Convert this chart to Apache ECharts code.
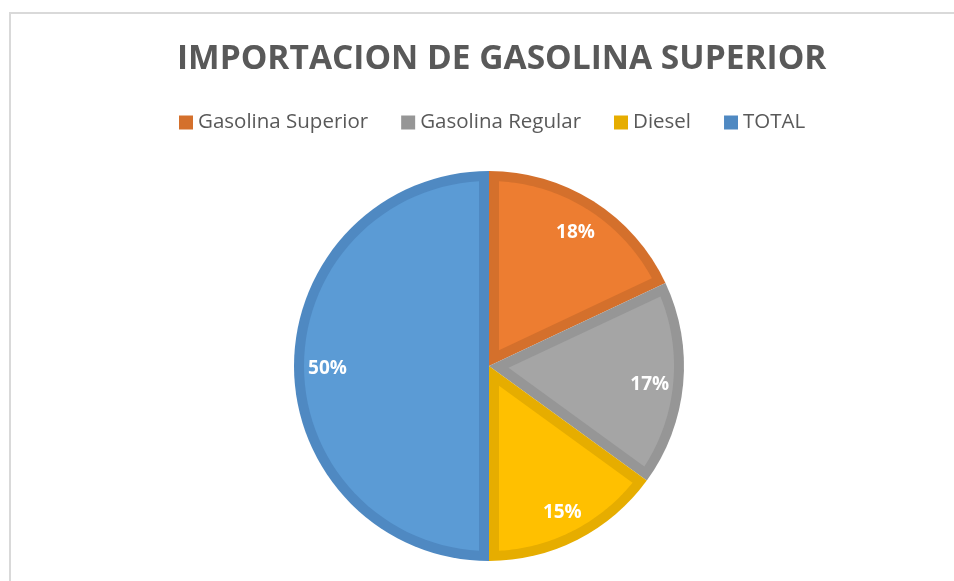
<!DOCTYPE html>
<html>
<head>
<meta charset="utf-8">
<script src="https://cdn.jsdelivr.net/npm/echarts@6/dist/echarts.min.js"></script>
<style>
  html, body { margin: 0; padding: 0; background: #fff; }
  #chart { width: 954px; height: 581px; }
</style>
</head>
<body>
<div id="chart"></div>
<script>
// datos del grafico
const categories = ['Gasolina Superior', 'Gasolina Regular', 'Diesel', 'TOTAL']
const values = [18, 17, 15, 50]
const fillColors = ['#ED7D31', '#A5A5A5', '#FFC000', '#5B9BD5']
const edgeColors = ['#D4702C', '#969696', '#E6AD00', '#4F89C2']

const chart = echarts.init(document.getElementById('chart'))
const center = [489, 366]
const R = 195
const edge = 10 // ancho del borde interior

const total = values.reduce((a, b) => a + b, 0)
// rangos acumulados para la serie custom
const ranges = []
let acc = 0
values.forEach((v, i) => {
  ranges.push([acc, acc + v, i])
  acc += v
})

// relleno claro, recortado hacia dentro
const renderInner = (params, api) => {
  const a0 = api.value(0)
  const a1 = api.value(1)
  const idx = api.value(2)
  const theta = (a1 - a0) / total * Math.PI * 2
  const shift = Math.asin(edge / (R - edge)) / (Math.PI * 2) * total
  const points = []
  const steps = 60
  for (let s = 0; s <= steps; s++) {
    const v = a0 + shift + (a1 - a0 - 2 * shift) * s / steps
    points.push(api.coord([R - edge, v]))
  }
  const apexR = edge / Math.sin(Math.min(theta, Math.PI) / 2)
  points.push(api.coord([apexR, (a0 + a1) / 2]))
  return {
    type: 'polygon',
    shape: { points: points },
    style: { fill: fillColors[idx] },
    silent: true
  }
}

const option = {
  backgroundColor: '#fff',
  animation: false,
  title: {
    text: 'IMPORTACION DE GASOLINA SUPERIOR',
    left: 172,
    top: 37,
    textStyle: {
      fontFamily: 'Open Sans',
      fontWeight: 'bold',
      fontSize: 33.5,
      color: '#595959'
    }
  },
  legend: {
    data: categories,
    left: 174,
    top: 107,
    itemWidth: 14,
    itemHeight: 14,
    itemGap: 33,
    icon: 'rect',
    textStyle: { fontFamily: 'Open Sans', fontSize: 20.5, color: '#595959' }
  },
  graphic: [{
    type: 'rect',
    shape: { x: 10, y: 13, width: 980, height: 620 },
    style: { fill: 'none', stroke: '#D9D9D9', lineWidth: 2 },
    silent: true
  }],
  polar: { center: center, radius: R },
  angleAxis: { type: 'value', min: 0, max: total, startAngle: 90, clockwise: true, show: false },
  radiusAxis: { type: 'value', min: 0, max: R, show: false },
  series: [
    {
      // borde oscuro
      type: 'pie',
      center: center,
      radius: [0, R],
      startAngle: 90,
      clockwise: true,
      label: { show: false },
      labelLine: { show: false },
      silent: true,
      data: categories.map((name, i) => ({
        name: name,
        value: values[i],
        itemStyle: { color: edgeColors[i] }
      }))
    },
    {
      type: 'custom',
      coordinateSystem: 'polar',
      renderItem: renderInner,
      silent: true,
      z: 5,
      data: ranges
    },
    {
      // etiquetas
      type: 'pie',
      center: [center[0], center[1] + 3],
      radius: [122, R],
      startAngle: 90,
      silent: true,
      z: 6,
      itemStyle: { color: 'rgba(0,0,0,0)' },
      labelLine: { show: false },
      label: {
        show: true,
        position: 'inside',
        formatter: (p) => Math.round(p.percent) + '%',
        fontFamily: 'Open Sans',
        fontWeight: 'bold',
        fontSize: 19,
        color: '#fff'
      },
      data: categories.map((name, i) => ({ name: name, value: values[i] }))
    }
  ]
}
chart.setOption(option)
</script>
</body>
</html>
